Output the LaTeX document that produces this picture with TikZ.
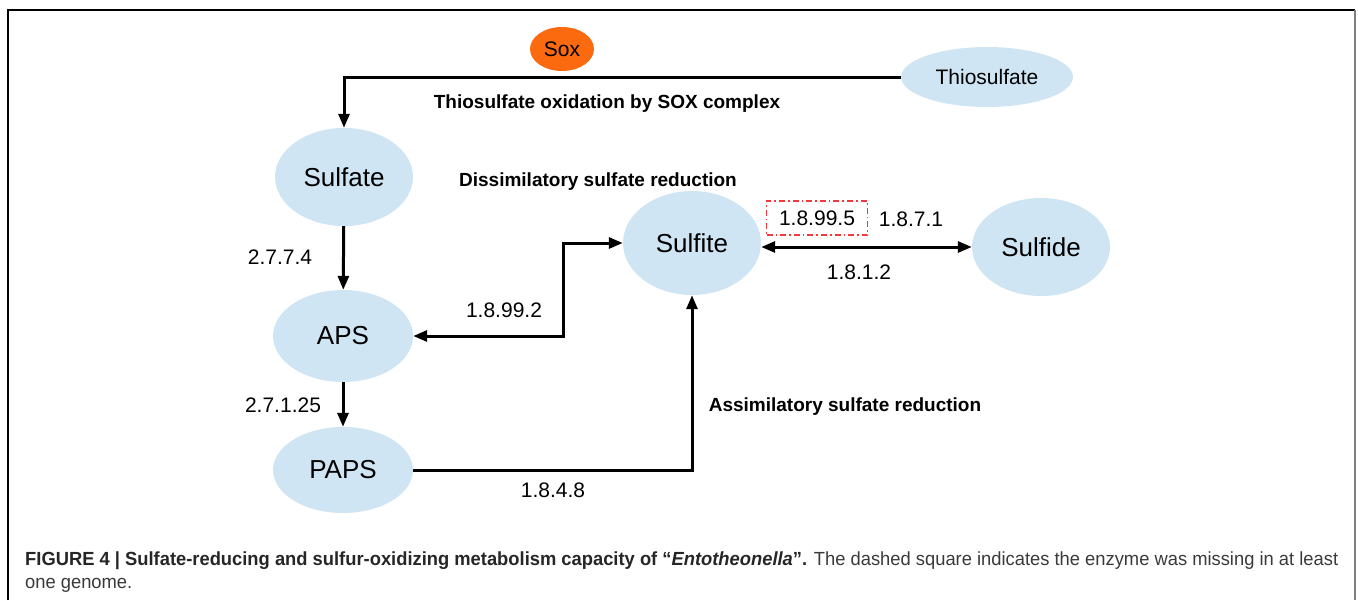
\documentclass[tikz,border=0pt]{standalone}
\usepackage{fontspec}
\setmainfont{Liberation Sans}
\usepackage{graphicx}
\usetikzlibrary{shapes.geometric,arrows.meta,calc}
\definecolor{poolblue}{HTML}{CFE5F3}
\definecolor{soxorange}{HTML}{FB6A0E}
\definecolor{missred}{HTML}{F2383A}
\definecolor{captext}{HTML}{262626}
\definecolor{capbody}{HTML}{3A3A3A}
\newsavebox\capbox
\newlength\capwd

\begin{document}
% caption's first line, condensed to the frame's text width
\sbox\capbox{\fontsize{19}{22}\selectfont\color{captext}\textbf{FIGURE 4 | Sulfate-reducing and sulfur-oxidizing metabolism capacity of “\textit{Entotheonella}”.} \color{capbody}The dashed square indicates the enzyme was missing in at least}%
\setlength\capwd{\wd\capbox}%
\pgfmathsetmacro\capratio{1313pt/\capwd}%
\begin{tikzpicture}[x=1pt,y=-1pt,
  pool/.style={ellipse, fill=poolblue, inner sep=0pt, font=\fontsize{26}{30}\selectfont},
  ec/.style={font=\fontsize{21}{25}\selectfont, inner sep=0pt},
  pathlabel/.style={font=\bfseries\fontsize{19}{23}\selectfont, inner sep=0pt},
  tip/.tip={Triangle[length=14pt,width=11pt]},
  flow/.style={line width=3pt, -tip},
  both/.style={line width=3pt, tip-tip},
]
\useasboundingbox (0,0) rectangle (1358,600);

% figure frame
\draw[line width=1.3pt, black] (8,600) -- (8,10) -- (1355,10);
\draw[line width=1.3pt, gray] (1355,10) -- (1355,600);

% metabolite pools
\node[pool, minimum width=138pt, minimum height=98pt] (sulfate) at (344,177) {Sulfate};
\node[pool, minimum width=140pt, minimum height=92pt] (aps) at (343,336) {APS};
\node[pool, minimum width=140pt, minimum height=86pt] (paps) at (343,470) {PAPS};
\node[pool, minimum width=138pt, minimum height=104pt] (sulfite) at (692,243) {Sulfite};
\node[pool, minimum width=138pt, minimum height=98pt] (sulfide) at (1041,247) {Sulfide};
\node[pool, font=\fontsize{21}{25}\selectfont, minimum width=172pt, minimum height=60pt] (thio) at (987,77) {Thiosulfate};
\node[ellipse, fill=soxorange, inner sep=0pt, minimum width=64pt, minimum height=44pt,
      font=\fontsize{21}{25}\selectfont] (sox) at (562,49) {Sox};

% reactions
\draw[flow] (thio.west) -| (sulfate.north);
\draw[flow] (sulfate) -- (aps);
\draw[flow] (aps) -- (paps);
\coordinate (dis) at (563,290);
\draw[both] (aps.east) -- (aps.east -| dis) -- (dis |- sulfite.west) -- (sulfite.west);
\draw[flow] (paps.east) -| (sulfite.south);
\draw[both] (sulfide.west -| sulfite.east) -- (sulfide.west);

% enzyme numbers
\node[ec] (e2774) at (280,257) {2.7.7.4};
\node[ec] (e27125) at (283,405) {2.7.1.25};
\node[ec] (e18992) at (504,310) {1.8.99.2};
\node[ec] (e1848) at (553,490) {1.8.4.8};
\node[ec, draw=missred, line width=1.6pt, dash pattern=on 6pt off 3pt on 1.6pt off 3pt,
      minimum width=101pt, minimum height=34pt] (e18995) at (817,218) {1.8.99.5};
\node[ec] (e1871) at (911,219) {1.8.7.1};
\node[ec] (e1812) at (859,272) {1.8.1.2};

% pathway names
\node[pathlabel] (pthio) at (607,104) {Thiosulfate oxidation by SOX complex};
\node[pathlabel] (pdis) at (598,182) {Dissimilatory sulfate reduction};
\node[pathlabel] (pass) at (845,407) {Assimilatory sulfate reduction};

% caption
\node[anchor=base west, inner sep=0pt] (cap1) at (25,565) {\scalebox{\capratio}[1]{\usebox\capbox}};
\node[anchor=base west, inner sep=0pt] (cap2) at (25,588) {\scalebox{\capratio}[1]{\fontsize{19}{22}\selectfont\color{capbody}one genome.}};
\end{tikzpicture}
\end{document}
